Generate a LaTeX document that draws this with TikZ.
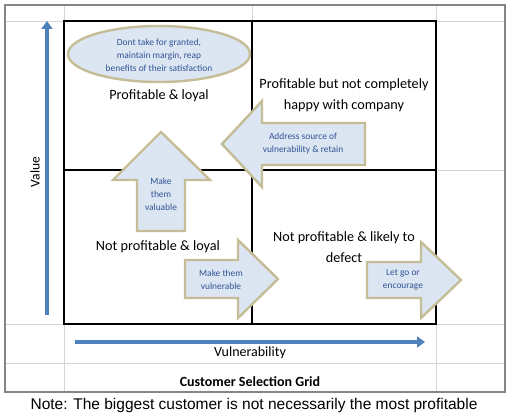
\documentclass[tikz,border=0pt]{standalone}
\usepackage{fontspec}
\setmainfont{Carlito}
\newfontfamily\notefont{Liberation Sans}
\usetikzlibrary{arrows.meta}

\definecolor{sheetgrid}{HTML}{D4D4D4}
\definecolor{framegray}{HTML}{858585}
\definecolor{axisblue}{HTML}{4F81BD}
\definecolor{boxfill}{HTML}{DCE6F2}
\definecolor{boxedge}{HTML}{C4BD97}
\definecolor{boxtext}{HTML}{2F5496}

\begin{document}
\begin{tikzpicture}[x=1pt, y=-1pt,
    celltext/.style={align=center, font=\fontsize{14.2}{21}\selectfont},
    boxtext/.style={align=center, text=boxtext, font=\fontsize{9.4}{13}\selectfont},
    blockarrow/.style={draw=boxedge, fill=boxfill, line width=2.4pt, line join=miter},
    axisline/.style={draw=axisblue, line width=3.5pt, -{Triangle[width=11pt,length=8pt]}}]
    \useasboundingbox (0,0) rectangle (513,417);
    \fill[white] (0,0) rectangle (513,417);

    % Spreadsheet cells behind the grid
    \draw[sheetgrid, line width=0.8pt] (5,21) -- (505,21);
    \draw[sheetgrid, line width=0.8pt] (436,170) -- (505,170);
    \draw[sheetgrid, line width=0.8pt] (5,324) -- (505,324);
    \draw[sheetgrid, line width=0.8pt] (5,363) -- (505,363);
    \draw[sheetgrid, line width=0.8pt] (64,5) -- (64,392);
    \draw[sheetgrid, line width=0.8pt] (252,5) -- (252,21);
    \draw[sheetgrid, line width=0.8pt] (436,5) -- (436,392);
    \draw[framegray, line width=2pt] (5,5) rectangle (505,392);

    % Quadrants
    \draw[line width=2pt] (252,21) -- (252,324);
    \draw[line width=2pt] (64,170) -- (436,170);
    \draw[line width=2.8pt] (64,21) rectangle (436,324);

    % Axes
    \coordinate (valuelow) at (47,315);
    \coordinate (valuehigh) at (47,21);
    \draw[axisline] (valuelow) -- (valuehigh);
    \node[rotate=90, font=\fontsize{13.5}{16}\selectfont] (valuelabel) at (35,172) {Value};
    \coordinate (vulnlow) at (75,342);
    \coordinate (vulnhigh) at (425,342);
    \draw[axisline] (vulnlow) -- (vulnhigh);
    \node[font=\fontsize{14}{16}\selectfont] (vulnlabel) at (250,353) {Vulnerability};

    % Quadrant labels
    \node[celltext] (loyal) at (159,96) {Profitable \& loyal};
    \node[celltext] (unhappy) at (344,95) {Profitable but not completely\\happy with company};
    \node[celltext] (notloyal) at (158,247) {Not profitable \& loyal};
    \node[celltext] (defect) at (344,247) {Not profitable \& likely to\\defect};

    % Ellipse in top left
    \draw[blockarrow] (159,54) ellipse (91 and 28);
    \node[boxtext] (granted) at (159,55) {Dont take for granted,\\maintain margin, reap\\benefits of their satisfaction};

    % Up arrow
    \draw[blockarrow] (161,132) -- (210,180) -- (185,180) -- (185,231) -- (137,231) -- (137,180) -- (113,180) -- cycle;
    \node[boxtext] (valuable) at (161,194) {Make\\them\\valuable};

    % Left arrow
    \draw[blockarrow] (222,144) -- (262,101) -- (262,123) -- (365,123) -- (365,165) -- (262,165) -- (262,187) -- cycle;
    \node[boxtext] (retain) at (303,143) {Address source of\\vulnerability \& retain};

    % Right arrows
    \draw[blockarrow] (278,279) -- (238,240) -- (238,260) -- (185,260) -- (185,298) -- (238,298) -- (238,318) -- cycle;
    \node[boxtext] (vulnerable) at (221,280) {Make them\\vulnerable};
    \draw[blockarrow] (461,280) -- (421,242) -- (421,262) -- (367,262) -- (367,298) -- (421,298) -- (421,318) -- cycle;
    \node[boxtext] (letgo) at (403,280) {Let go or\\encourage};

    % Titles
    \node[font=\fontsize{14}{16}\selectfont\bfseries] (gridtitle) at (250,382) {Customer Selection Grid};
    \node[font=\notefont\fontsize{15.5}{17}\selectfont] (note) at (254,405) {Note: The biggest customer is not necessarily the most profitable};
\end{tikzpicture}
\end{document}
